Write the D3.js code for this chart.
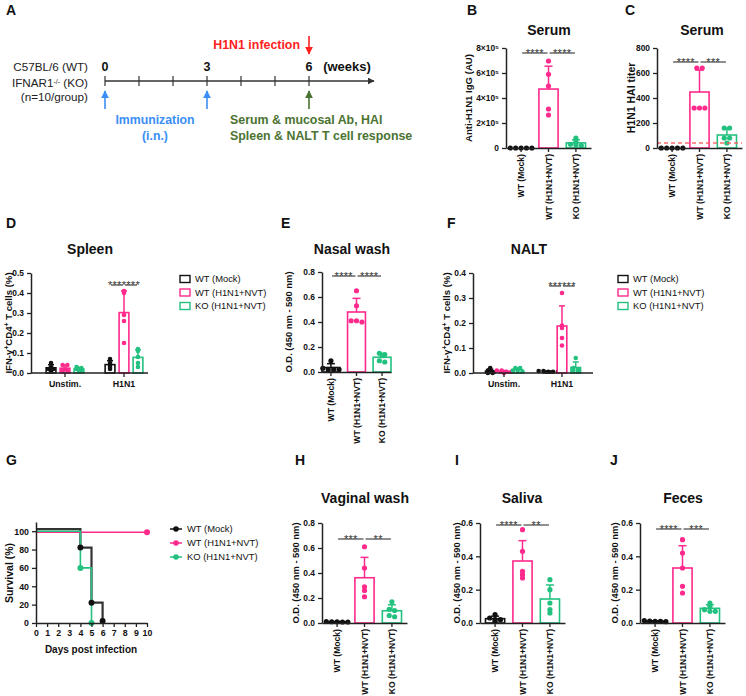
<!DOCTYPE html>
<html><head><meta charset="utf-8">
<script src="https://cdn.jsdelivr.net/npm/d3@7/dist/d3.min.js"></script>
<style>html,body{margin:0;padding:0;background:#fff;} svg{display:block;font-family:"Liberation Sans",Arial,Helvetica,sans-serif;}</style>
</head><body>
<svg id="fig" width="746" height="696"></svg>
<script>
// ---------------- data ----------------
const groups = ["WT (Mock)", "WT (H1N1+NVT)", "KO (H1N1+NVT)"];
const stimCats = ["Unstim.", "H1N1"];
const weeks = [0, 1, 2, 3, 4, 5, 6];
const weekLabels = [0, 3, 6];

const iggMock = [0, 0, 0, 0, 0];
const iggWT = [696000, 590000, 496000, 312000, 264000];
const iggKO = [80000, 50000, 30000, 25000, 20000];
const iggTicks = [0, 200000, 400000, 600000, 800000];
const iggTickLabels = ["0", "2×10⁵", "4×10⁵", "6×10⁵", "8×10⁵"];
const iggSig = ["****", "****"], iggSigLevel = 760000;

const haiMock = [0, 0, 0, 0, 0];
const haiWT = [640, 640, 320, 320, 320];
const haiKO = [160, 160, 80, 80, 40];
const haiTicks = [0, 200, 400, 600, 800];
const haiCutoff = 40;
const haiSig = ["****", "***"], haiSigLevel = 688;

const spleenMock = [[0.05, 0.03, 0.02, 0.02, 0.01], [0.07, 0.05, 0.04, 0.03, 0.02]];
const spleenWT = [[0.04, 0.04, 0.02, 0.01, 0.01], [0.41, 0.40, 0.29, 0.26, 0.15]];
const spleenKO = [[0.03, 0.025, 0.02, 0.015, 0.01], [0.12, 0.11, 0.08, 0.05, 0.03]];
const spleenTicks = [0, 0.1, 0.2, 0.3, 0.4, 0.5];
const spleenSig = ["***", "****"], spleenSigLevel = 0.44;

const nasalMock = [0.09, 0.03, 0.02, 0.02, 0.02];
const nasalWT = [0.65, 0.53, 0.41, 0.41, 0.40];
const nasalKO = [0.15, 0.14, 0.13, 0.09, 0.08];
const nasalSig = ["****", "****"], nasalSigLevel = 0.768;

const naltMock = [[0.02, 0.01, 0.005, 0, 0], [0.008, 0.008, 0.005, 0.005, 0.005]];
const naltWT = [[0.01, 0.01, 0.005, 0.005, 0], [0.32, 0.19, 0.18, 0.14, 0.11]];
const naltKO = [[0.02, 0.02, 0.01, 0.01, 0.005], [0.06, 0.02, 0.015, 0.01, 0.005]];
const naltTicks = [0, 0.1, 0.2, 0.3, 0.4];
const naltSig = ["***", "***"], naltSigLevel = 0.348;

const survDayTicks = [0, 1, 2, 3, 4, 5, 6, 7, 8, 9, 10];
const survTicks = [0, 20, 40, 60, 80, 100];
const survDaysMock = [0, 4, 5, 6], survMock = [100, 80, 20, 0];
const survDaysWT = [0, 10], survWT = [100, 100];
const survDaysKO = [0, 4, 5], survKO = [100, 60, 0];

const vagMock = [0.012, 0.01, 0.01, 0.008, 0.008];
const vagWT = [0.61, 0.44, 0.29, 0.26, 0.21];
const vagKO = [0.17, 0.11, 0.10, 0.06, 0.05];
const vagSig = ["***", "**"], vagSigLevel = 0.672;

const salMock = [0.05, 0.03, 0.02, 0.02, 0.01];
const salWT = [0.56, 0.43, 0.31, 0.29, 0.27];
const salKO = [0.26, 0.20, 0.12, 0.08, 0.06];
const salSig = ["****", "**"], salSigLevel = 0.588;

const fecMock = [0.015, 0.012, 0.01, 0.01, 0.008];
const fecWT = [0.50, 0.42, 0.33, 0.22, 0.18];
const fecKO = [0.12, 0.10, 0.08, 0.07, 0.07];
const fecSig = ["****", "***"], fecSigLevel = 0.564;

const od08Ticks = [0, 0.2, 0.4, 0.6, 0.8];
const od06Ticks = [0, 0.2, 0.4, 0.6];

// ---------------- style ----------------
const COLORS = ["#111111", "#ff2a8c", "#22c17f"];
const AXIS = "#222";
const svg = d3.select("#fig");
const FONT = '"Liberation Sans", Arial, Helvetica, sans-serif';
const TICK_FS = 8.4;

function letter(t, x, y) {
  svg.append("text").attr("x", x).attr("y", y).attr("font-size", 14).attr("font-weight", "bold").attr("fill", "#111").text(t);
}
function title(t, x, y) {
  svg.append("text").attr("x", x).attr("y", y).attr("text-anchor", "middle").attr("font-size", 14).attr("font-weight", "bold").attr("fill", "#111").text(t);
}
function rotLabel(cx, cy, parts, size) {
  const t = svg.append("text").attr("transform", `translate(${cx},${cy}) rotate(-90)`)
    .attr("text-anchor", "middle").attr("dy", "0.35em").attr("font-size", size).attr("font-weight", "bold").attr("fill", "#111");
  parts.forEach(p => {
    if (typeof p === "string") t.append("tspan").text(p);
    else t.append("tspan").attr("baseline-shift", "super").attr("font-size", size * 0.7).text(p.sup);
  });
}
function styleAxis(a, size) {
  a.attr("font-family", FONT).attr("font-size", size).attr("font-weight", "bold");
  a.select(".domain").attr("stroke", AXIS).attr("stroke-width", 1.5);
  a.selectAll(".tick line").attr("stroke", AXIS).attr("stroke-width", 1.3);
  a.selectAll(".tick text").attr("fill", "#111");
}
// horizontal spreading of overlapping dots (column scatter)
function swarm(vals, y, thresh, spacing) {
  const items = vals.map((v, i) => ({ i, py: y(v) })).sort((a, b) => a.py - b.py);
  const off = new Array(vals.length).fill(0);
  let cl = [];
  const flush = () => { cl.forEach((it, k) => off[it.i] = (k - (cl.length - 1) / 2) * spacing); cl = []; };
  items.forEach(it => {
    if (cl.length && Math.abs(it.py - cl[0].py) >= thresh) flush();
    cl.push(it);
  });
  flush();
  return off;
}
function drawBarSeries(g, vals, cx, bw, y, y0, color, r, capW) {
  const m = d3.mean(vals), sd = d3.deviation(vals) || 0;
  if (m > 0) {
    g.append("line").attr("x1", cx).attr("x2", cx).attr("y1", y(m)).attr("y2", y(m + sd)).attr("stroke", color).attr("stroke-width", 1.5);
    g.append("line").attr("x1", cx - capW / 2).attr("x2", cx + capW / 2).attr("y1", y(m + sd)).attr("y2", y(m + sd)).attr("stroke", color).attr("stroke-width", 1.5);
    g.append("rect").attr("x", cx - bw / 2).attr("y", y(m)).attr("width", bw).attr("height", y0 - y(m))
      .attr("fill", "#fff").attr("stroke", color).attr("stroke-width", 1.6);
  }
  const off = swarm(vals, y, 2, r * 2 + 0.2);
  g.selectAll(null).data(vals).enter().append("circle")
    .attr("cx", (d, i) => cx + off[i]).attr("cy", d => y(d)).attr("r", r).attr("fill", color);
}
function sigText(g, x, yPix, lab) {
  g.append("text").attr("x", x).attr("y", yPix + 3.9).attr("text-anchor", "middle")
    .attr("font-size", 11).attr("letter-spacing", 0.3).attr("fill", "#333").text(lab);
}
function drawSig(g, xs, yPix, labels, combined) {
  labels.forEach((lab, k) => {
    const xa = xs[k] + 1, xb = xs[k + 1] - 1;
    g.append("line").attr("x1", xa).attr("x2", xb).attr("y1", yPix).attr("y2", yPix).attr("stroke", "#333").attr("stroke-width", 1.1);
    if (!combined) sigText(g, (xa + xb) / 2, yPix, lab);
  });
  if (combined) sigText(g, (xs[0] + xs[xs.length - 1]) / 2, yPix, labels.join(""));
}

function barPanel(o) {
  const g = svg.append("g");
  const y = d3.scaleLinear().domain([0, d3.max(o.ticks)]).range([o.y0, o.yTop]);
  const x = d3.scaleBand().domain(groups).range([o.x0, o.x0 + o.w]).paddingInner(0.3).paddingOuter(o.padOuter !== undefined ? o.padOuter : 0.2);
  const bw = x.bandwidth();
  const centers = groups.map(k => x(k) + bw / 2);
  o.series.forEach((vals, i) => drawBarSeries(g, vals, centers[i], bw, y, o.y0, COLORS[i], 2.6, 8));
  if (o.cutoff !== undefined) {
    g.append("line").attr("x1", o.x0).attr("x2", o.x0 + o.w).attr("y1", y(o.cutoff)).attr("y2", y(o.cutoff))
      .attr("stroke", "#ff5c5c").attr("stroke-width", 1.6).attr("stroke-dasharray", "4,3").attr("opacity", 0.9);
  }
  const xa = g.append("g").attr("transform", `translate(0,${o.y0})`).call(d3.axisBottom(x).tickSize(4).tickSizeOuter(0));
  styleAxis(xa, 8.6);
  xa.selectAll(".tick text").attr("transform", "rotate(-90)").attr("text-anchor", "end").attr("x", -6).attr("y", 0).attr("dy", "0.35em");
  const ya = g.append("g").attr("transform", `translate(${o.x0},0)`)
    .call(d3.axisLeft(y).tickValues(o.ticks).tickFormat((d, i) => o.labels ? o.labels[i] : d3.format(o.fmt)(d)).tickSize(4).tickPadding(3).tickSizeOuter(0));
  styleAxis(ya, TICK_FS);
  drawSig(g, centers, y(o.sigLevel), o.sig, false);
  title(o.title, o.titleX, o.titleY);
  rotLabel(o.labelX, (o.y0 + o.yTop) / 2, o.ylabel, o.labelSize || 9.4);
}

function groupPanel(o) {
  const g = svg.append("g");
  const y = d3.scaleLinear().domain([0, d3.max(o.ticks)]).range([o.y0, o.yTop]);
  const x0 = d3.scaleBand().domain(stimCats).range([o.x0 + o.bandStart, o.x0 + o.bandEnd]);
  const x1 = d3.scaleBand().domain([0, 1, 2]).range([0, x0.bandwidth()]).paddingInner(0.3).paddingOuter(0.76);
  const bw = x1.bandwidth();
  stimCats.forEach((c, ci) => {
    const cxs = [0, 1, 2].map(i => x0(c) + x1(i) + bw / 2);
    o.series.forEach((s, i) => drawBarSeries(g, s[ci], cxs[i], bw, y, o.y0, COLORS[i], 2.3, 6));
    if (ci === 1) drawSig(g, cxs, y(o.sigLevel), o.sig, true);
  });
  g.append("line").attr("x1", o.x0).attr("x2", o.x0 + o.axisLen).attr("y1", o.y0).attr("y2", o.y0).attr("stroke", AXIS).attr("stroke-width", 1.5);
  const xa = g.append("g").attr("transform", `translate(0,${o.y0})`).call(d3.axisBottom(x0).tickSize(4).tickPadding(4));
  xa.select(".domain").remove();
  styleAxis(xa, 8.8);
  const ya = g.append("g").attr("transform", `translate(${o.x0},0)`)
    .call(d3.axisLeft(y).tickValues(o.ticks).tickFormat(d3.format(".1f")).tickSize(4).tickPadding(3).tickSizeOuter(0));
  styleAxis(ya, TICK_FS);
  title(o.title, o.titleX, o.titleY);
  rotLabel(o.labelX, (o.y0 + o.yTop) / 2, ["IFN-γ", { sup: "+" }, "CD4", { sup: "+" }, " T cells (%)"], 9.6);
  const lg = svg.append("g").attr("transform", `translate(${o.legX},${o.legY})`);
  groups.forEach((k, i) => {
    const r = lg.append("g").attr("transform", `translate(0,${i * 13.5})`);
    r.append("rect").attr("x", 0).attr("y", -3.5).attr("width", 10).attr("height", 7).attr("fill", "#fff").attr("stroke", COLORS[i]).attr("stroke-width", 1.4);
    r.append("text").attr("x", 15).attr("y", 0).attr("dy", "0.35em").attr("font-size", 9.4).attr("fill", "#111").text(k);
  });
}

// ---------------- Panel A ----------------
(function () {
  letter("A", 6, 15);
  const w = d3.scaleLinear().domain([0, 6]).range([105, 309]);
  const yL = 81;
  const g = svg.append("g");
  const defs = svg.append("defs");
  [["ah", "#333"], ["ahB", "#3a8ef6"], ["ahR", "#ff2020"], ["ahG", "#4b7331"]].forEach(([id, c]) => {
    defs.append("marker").attr("id", id).attr("viewBox", "0 0 10 10").attr("refX", 9).attr("refY", 5)
      .attr("markerWidth", 5).attr("markerHeight", 5).attr("orient", "auto")
      .append("path").attr("d", "M0,0 L10,5 L0,10 z").attr("fill", c);
  });
  g.append("line").attr("x1", w(0)).attr("x2", 374).attr("y1", yL).attr("y2", yL).attr("stroke", "#333").attr("stroke-width", 1.4).attr("marker-end", "url(#ah)");
  g.selectAll(null).data(weeks).enter().append("line").attr("x1", d => w(d)).attr("x2", d => w(d)).attr("y1", yL - 5).attr("y2", yL + 5).attr("stroke", "#333").attr("stroke-width", 1.2);
  g.selectAll(null).data(weekLabels).enter().append("text").attr("x", d => w(d)).attr("y", 71).attr("text-anchor", "middle")
    .attr("font-size", 12.5).attr("font-weight", "bold").attr("fill", "#111").text(d => d);
  g.append("text").attr("x", 347).attr("y", 71).attr("text-anchor", "middle").attr("font-size", 13).attr("font-weight", "bold").attr("fill", "#111").text("(weeks)");
  const lt = g.append("g").attr("font-size", 11.7).attr("fill", "#222").attr("text-anchor", "end");
  lt.append("text").attr("x", 88).attr("y", 71).text("C57BL/6 (WT)");
  const t2 = lt.append("text").attr("x", 88).attr("y", 87);
  t2.append("tspan").text("IFNAR1");
  t2.append("tspan").attr("baseline-shift", "super").attr("font-size", 7).text("-/-");
  t2.append("tspan").text(" (KO)");
  lt.append("text").attr("x", 88).attr("y", 101).text("(n=10/group)");
  [0, 3].forEach(d => g.append("line").attr("x1", w(d)).attr("x2", w(d)).attr("y1", 109).attr("y2", 91).attr("stroke", "#3a8ef6").attr("stroke-width", 1.6).attr("marker-end", "url(#ahB)"));
  g.append("line").attr("x1", w(6)).attr("x2", w(6)).attr("y1", 109).attr("y2", 91).attr("stroke", "#4b7331").attr("stroke-width", 1.6).attr("marker-end", "url(#ahG)");
  g.append("line").attr("x1", w(6)).attr("x2", w(6)).attr("y1", 36).attr("y2", 54).attr("stroke", "#ff2020").attr("stroke-width", 1.6).attr("marker-end", "url(#ahR)");
  g.append("text").attr("x", 300).attr("y", 49).attr("text-anchor", "end").attr("font-size", 12.4).attr("font-weight", "bold").attr("fill", "#ff2020").text("H1N1 infection");
  const bt = g.append("g").attr("font-size", 12.3).attr("font-weight", "bold").attr("fill", "#3a8ef6").attr("text-anchor", "middle");
  bt.append("text").attr("x", 155).attr("y", 124).text("Immunization");
  bt.append("text").attr("x", 155).attr("y", 140).text("(i.n.)");
  const gt = g.append("g").attr("font-size", 12.4).attr("font-weight", "bold").attr("fill", "#4b7331");
  gt.append("text").attr("x", 230).attr("y", 124).text("Serum & mucosal Ab, HAI");
  gt.append("text").attr("x", 230).attr("y", 140).text("Spleen & NALT T cell response");
})();

// ---------------- Panels B, C ----------------
letter("B", 467, 15);
barPanel({ x0: 506, y0: 148, yTop: 48, w: 85, ticks: iggTicks, labels: iggTickLabels, series: [iggMock, iggWT, iggKO],
  sig: iggSig, sigLevel: iggSigLevel, title: "Serum", titleX: 549, titleY: 35, labelX: 469, ylabel: ["Anti-H1N1 IgG (AU)"], labelSize: 9.6 });
letter("C", 625, 15);
barPanel({ x0: 657, y0: 148, yTop: 48, w: 85, ticks: haiTicks, fmt: "d", series: [haiMock, haiWT, haiKO], cutoff: haiCutoff,
  sig: haiSig, sigLevel: haiSigLevel, title: "Serum", titleX: 702, titleY: 35, labelX: 631, ylabel: ["H1N1 HAI titer"], labelSize: 10.5 });

// ---------------- Panel D ----------------
letter("D", 6, 228);
groupPanel({ x0: 31, y0: 373, yTop: 273, bandStart: 4.5, bandEnd: 122.5, axisLen: 117, ticks: spleenTicks,
  series: [spleenMock, spleenWT, spleenKO], sig: spleenSig, sigLevel: spleenSigLevel,
  title: "Spleen", titleX: 90, titleY: 254, labelX: 9, legX: 180, legY: 279 });

// ---------------- Panel E ----------------
letter("E", 281, 228);
barPanel({ x0: 322, y0: 372, yTop: 272, w: 69, padOuter: 0, ticks: od08Ticks, fmt: ".1f", series: [nasalMock, nasalWT, nasalKO],
  sig: nasalSig, sigLevel: nasalSigLevel, title: "Nasal wash", titleX: 352, titleY: 254, labelX: 289,
  ylabel: ["O.D. (450 nm - 590 nm)"] });

// ---------------- Panel F ----------------
letter("F", 447, 228);
groupPanel({ x0: 473, y0: 373, yTop: 273, bandStart: 2, bandEnd: 118, axisLen: 120, ticks: naltTicks,
  series: [naltMock, naltWT, naltKO], sig: naltSig, sigLevel: naltSigLevel,
  title: "NALT", titleX: 529, titleY: 254, labelX: 447, legX: 618, legY: 279 });

// ---------------- Panel G ----------------
(function () {
  letter("G", 6, 465);
  const g = svg.append("g");
  const x = d3.scaleLinear().domain([0, 10]).range([36, 147]);
  const y = d3.scaleLinear().domain([0, 110]).range([623, 522]);
  const series = [
    { d: survDaysMock, s: survMock, c: "#333", w: 2.2, nudge: -2 },
    { d: survDaysWT, s: survWT, c: COLORS[1], w: 1.6, nudge: 1 },
    { d: survDaysKO, s: survKO, c: COLORS[2], w: 1.6, nudge: 0 }
  ];
  series.forEach(se => {
    const pts = se.d.map((d, i) => [x(d), y(se.s[i]) + se.nudge]);
    g.append("path").attr("d", d3.line().curve(d3.curveStepAfter)(pts)).attr("fill", "none").attr("stroke", se.c).attr("stroke-width", se.w);
  });
  series.forEach(se => {
    const pts = se.d.map((d, i) => [x(d), y(se.s[i]) + se.nudge]).slice(1);
    g.selectAll(null).data(pts).enter().append("circle").attr("cx", p => p[0]).attr("cy", p => p[1]).attr("r", 3)
      .attr("fill", se.c === "#333" ? "#111" : se.c);
  });
  const xa = g.append("g").attr("transform", "translate(0,623)").call(d3.axisBottom(x).tickValues(survDayTicks).tickFormat(d3.format("d")).tickSize(4).tickPadding(3).tickSizeOuter(0));
  styleAxis(xa, 8.8);
  const ya = g.append("g").attr("transform", "translate(36,0)").call(d3.axisLeft(y).tickValues(survTicks).tickSize(4).tickPadding(3).tickSizeOuter(0));
  styleAxis(ya, 8.8);
  g.append("text").attr("x", 91).attr("y", 653).attr("text-anchor", "middle").attr("font-size", 10).attr("font-weight", "bold").attr("fill", "#111").text("Days post infection");
  rotLabel(9, 573, ["Survival (%)"], 10.5);
  const lg = svg.append("g").attr("transform", "translate(170,529)");
  groups.forEach((k, i) => {
    const r = lg.append("g").attr("transform", `translate(0,${i * 14})`);
    const c = i === 0 ? "#111" : COLORS[i];
    r.append("line").attr("x1", 0).attr("x2", 12).attr("y1", 0).attr("y2", 0).attr("stroke", c).attr("stroke-width", 1.5);
    r.append("circle").attr("cx", 6).attr("cy", 0).attr("r", 2.8).attr("fill", c);
    r.append("text").attr("x", 17).attr("y", 0).attr("dy", "0.35em").attr("font-size", 9.4).attr("fill", "#111").text(k);
  });
})();

// ---------------- Panels H, I, J ----------------
const odLabel = ["O.D. (450 nm - 590 nm)"];
letter("H", 295, 465);
barPanel({ x0: 322, y0: 623, yTop: 523, w: 85, ticks: od08Ticks, fmt: ".1f", series: [vagMock, vagWT, vagKO],
  sig: vagSig, sigLevel: vagSigLevel, title: "Vaginal wash", titleX: 365, titleY: 503, labelX: 296, ylabel: odLabel });
letter("I", 455, 465);
barPanel({ x0: 480, y0: 623, yTop: 523, w: 85, ticks: od06Ticks, fmt: ".1f", series: [salMock, salWT, salKO],
  sig: salSig, sigLevel: salSigLevel, title: "Saliva", titleX: 522, titleY: 503, labelX: 457, ylabel: odLabel });
letter("J", 610, 465);
barPanel({ x0: 640, y0: 623, yTop: 523, w: 85, ticks: od06Ticks, fmt: ".1f", series: [fecMock, fecWT, fecKO],
  sig: fecSig, sigLevel: fecSigLevel, title: "Feces", titleX: 683, titleY: 503, labelX: 615, ylabel: odLabel });
</script>
</body></html>
